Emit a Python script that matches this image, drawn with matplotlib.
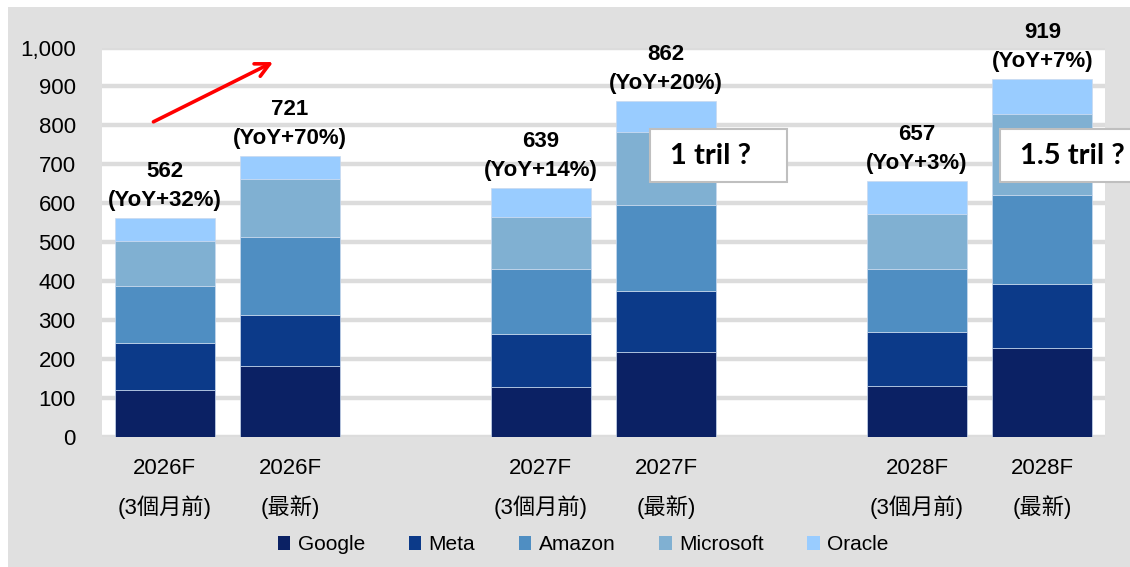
import numpy as np
import matplotlib
matplotlib.use("Agg")
import matplotlib.pyplot as plt
from matplotlib.patches import Rectangle, Patch
from matplotlib.ticker import FuncFormatter

plt.rcParams['font.family'] = ['Liberation Sans', 'Noto Sans CJK TC']

# capex forecasts (USD bn)
years = ['2026F', '2026F', '2027F', '2027F', '2028F', '2028F']
versions = ['(3個月前)', '(最新)', '(3個月前)', '(最新)', '(3個月前)', '(最新)']
google = [121, 182, 127, 217, 131, 227]
meta = [120, 132, 138, 158, 138, 166]
amazon = [145, 199, 166, 220, 161, 228]
microsoft = [116, 148, 134, 188, 143, 209]
oracle = [60, 60, 74, 79, 84, 89]
yoy = ['+32%', '+70%', '+14%', '+20%', '+3%', '+7%']

names = ['Google', 'Meta', 'Amazon', 'Microsoft', 'Oracle']
colors = ['#0b2164', '#0c3a89', '#4f8ec2', '#80b0d2', '#99ccff']
series = [google, meta, amazon, microsoft, oracle]

n = len(years)
pos = np.array([i + i // 2 for i in range(n)])  # pairs with an empty slot between

fig = plt.figure(figsize=(11.3, 5.67), dpi=100)
fig.patch.set_facecolor('white')
fig.patches.append(Rectangle((0.0071, 0), 1, 0.9877, transform=fig.transFigure,
                             facecolor='#e0e0e0', edgecolor='none', zorder=-10))
ax = fig.add_axes([0.0903, 0.2298, 0.8876, 0.6863])
ax.set_facecolor('white')

bottom = np.zeros(n)
for vals, c, name in zip(series, colors, names):
    ax.bar(pos, vals, 0.8, bottom=bottom, color=c, edgecolor='#c9d9ee',
           linewidth=0.5, label=name, zorder=3)
    bottom += np.array(vals)

for x, tot, y in zip(pos, bottom, yoy):
    ax.annotate('%d\n(YoY%s)' % (tot, y), (x, tot), xytext=(0, 5),
                textcoords='offset points', ha='center', va='bottom',
                fontsize=16, fontweight='bold', linespacing=1.5)

ax.set_xlim(-0.5, 7.5)
ax.set_ylim(0, 1000)
ax.set_yticks(np.arange(0, 1001, 100))
ax.yaxis.set_major_formatter(FuncFormatter(lambda v, p: '{:,.0f}'.format(v)))
ax.set_xticks(pos)
ax.set_xticklabels([a + '\n' + b for a, b in zip(years, versions)], linespacing=1.9)
ax.tick_params(axis='y', length=0, pad=19, labelsize=16)
ax.tick_params(axis='x', length=0, pad=15, labelsize=16)
ax.grid(axis='y', color='#dcdcdc', linewidth=3.2, zorder=0)
ax.set_axisbelow(True)
for s in ax.spines.values():
    s.set_visible(False)

# red trend arrow
ax.annotate('', xy=(0.885, 966), xytext=(-0.11, 806),
            arrowprops=dict(arrowstyle='->,head_length=1.0,head_width=0.5',
                            color='#ff0000', lw=2.6), annotation_clip=False)

# callout boxes
for x0, x1, txt in [(3.868, 4.96, '1 tril ?'), (6.66, 8.2, '1.5 tril ?')]:
    ax.add_patch(Rectangle((x0, 655), x1 - x0, 136, facecolor='white',
                           edgecolor='#bfbfbf', linewidth=1.5, zorder=5, clip_on=False))
ax.text(4.355, 722, '1 tril ?', ha='center', va='center', fontsize=21,
        fontweight='bold', family='Lato', zorder=6)
ax.text(6.82, 722, '1.5 tril ?', ha='left', va='center', fontsize=21,
        fontweight='bold', family='Lato', zorder=6, clip_on=False)

handles = [Patch(facecolor=c, label=nm) for c, nm in zip(colors, names)]
fig.legend(handles=handles, loc='center', bbox_to_anchor=(0.516, 0.039), ncol=5,
           frameon=False, fontsize=15, handlelength=0.6, handleheight=0.6,
           handletextpad=0.35, columnspacing=2.1)

fig.savefig('out.png', dpi=100, facecolor=fig.get_facecolor())
